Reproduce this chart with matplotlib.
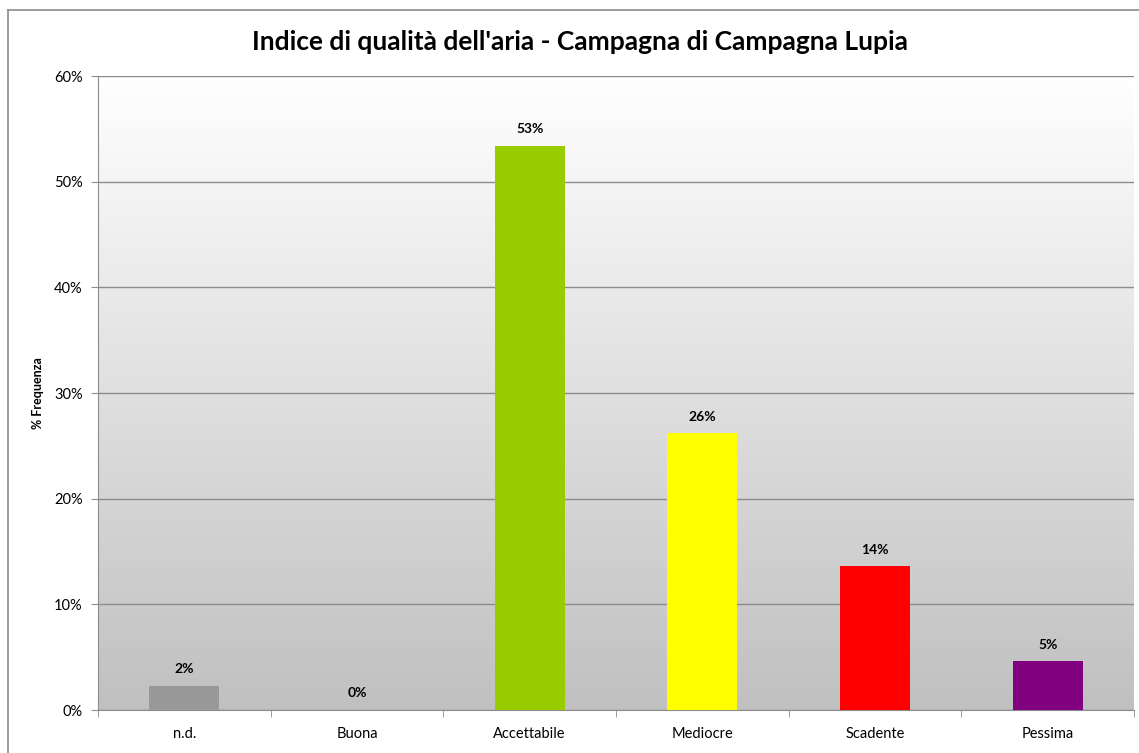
import matplotlib.pyplot as plt
import numpy as np

# dati
categorie = ["n.d.", "Buona", "Accettabile", "Mediocre", "Scadente", "Pessima"]
frequenza = [2.3, 0.0, 53.4, 26.2, 13.6, 4.6]
colori = ["#999999", "#99CC00", "#99CC00", "#FFFF00", "#FF0000", "#800080"]
etichette = ["2%", "0%", "53%", "26%", "14%", "5%"]

plt.rcParams['font.family'] = ['Lato', 'DejaVu Sans']

fig = plt.figure(figsize=(11.39, 7.53), dpi=100)
ax = fig.add_axes([98 / 1139, 1 - 710 / 753, (1134 - 98) / 1139, (710 - 76) / 753])

# bordo esterno del grafico (tagliato a destra e in basso)
fig.add_artist(plt.Line2D([8 / 1139, 8 / 1139], [0, 1 - 10 / 753], transform=fig.transFigure, color="#8c8c8c", lw=1.2))
fig.add_artist(plt.Line2D([8 / 1139, 1], [1 - 10 / 753, 1 - 10 / 753], transform=fig.transFigure, color="#8c8c8c", lw=1.2))

# sfondo sfumato bianco -> grigio
x = np.arange(len(categorie))
grad = np.linspace(1.0, 0.0, 256).reshape(-1, 1)
ax.imshow(grad, extent=[-0.5, len(categorie) - 0.5, 0, 60], aspect='auto',
          cmap=plt.matplotlib.colors.LinearSegmentedColormap.from_list("g", ["#c0c0c0", "#ffffff"]),
          zorder=0)

ax.bar(x, frequenza, width=0.405, color=colori, zorder=3)

for xi, v, t in zip(x, frequenza, etichette):
    ax.text(xi, v + 1.0, t, ha='center', va='bottom', fontsize=10, fontweight='bold', zorder=4)

ax.set_xlim(-0.5, len(categorie) - 0.5)
ax.set_ylim(0, 60)
ax.set_yticks(range(0, 61, 10))
ax.set_yticklabels([f"{v}%" for v in range(0, 61, 10)], fontsize=10.5)
ax.set_xticks(x)
ax.set_xticklabels(categorie, fontsize=10.5)
ax.set_xticks(np.arange(-0.5, len(categorie), 1), minor=True)
ax.tick_params(axis='x', which='major', length=0, pad=12)
ax.tick_params(axis='x', which='minor', length=5, color="#8c8c8c", direction='out')
ax.tick_params(axis='y', length=5, color="#8c8c8c", direction='out', pad=6)

ax.grid(axis='y', color="#8c8c8c", lw=1.0, zorder=1)
for s in ['top', 'right']:
    ax.spines[s].set_visible(False)
ax.spines['left'].set_color("#8c8c8c")
ax.spines['bottom'].set_color("#8c8c8c")

ax.set_ylabel("% Frequenza", fontsize=9, fontweight='bold', labelpad=7)
fig.text(580 / 1139, 1 - 42 / 753, "Indice di qualità dell'aria - Campagna di Campagna Lupia",
         ha='center', va='center', fontsize=19, fontweight='bold')

plt.savefig("out.png", dpi=100)
